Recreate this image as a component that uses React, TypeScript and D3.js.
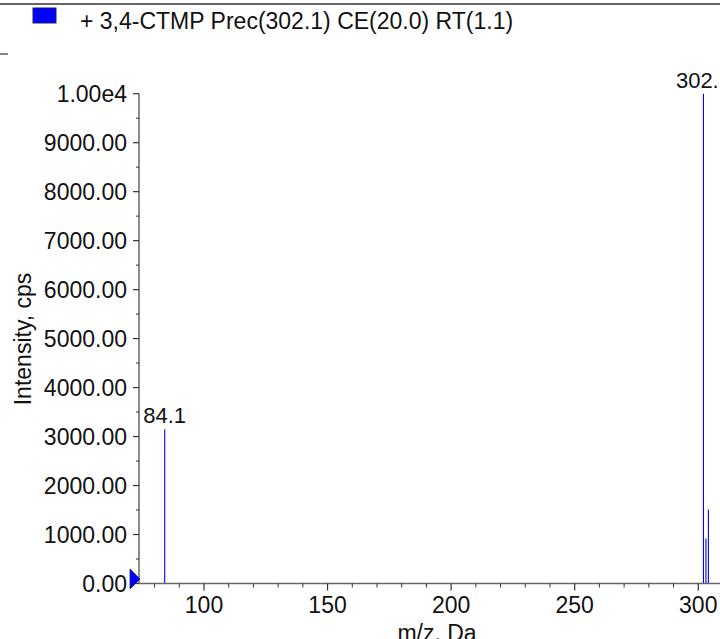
import React from "react";
import * as d3 from "d3";

const peakMz: number[] = [84.1, 302.1, 303.1, 304.1];
const peakIntensity: number[] = [3150, 10000, 920, 1510];
const peakLabels: string[] = ["84.1", "302.1", "", ""];
const xTicks: number[] = [100, 150, 200, 250, 300];
const yTicks: number[] = [0, 1000, 2000, 3000, 4000, 5000, 6000, 7000, 8000, 9000, 10000];
const legendText = "+ 3,4-CTMP Prec(302.1) CE(20.0) RT(1.1)";
const xTitle = "m/z. Da";
const yTitle = "Intensity, cps";

const W = 720;
const H = 639;
const FONT = "'Liberation Sans', Arial, Helvetica, sans-serif";
const FS = 23;

export default function App() {
  const x = d3.scaleLinear().domain([73.7, 308.8]).range([139, 720]);
  const y = d3.scaleLinear().domain([0, 10000]).range([583.5, 93.7]);
  const x0 = x.range()[0];
  const y0 = y(0);
  const xMinor = d3.range(80, 310, 10).filter((v) => !xTicks.includes(v));
  const yMinor = d3.range(500, 10000, 1000);
  const fmtY = (v: number) => (v >= 10000 ? "1.00e4" : v.toFixed(2));

  return (
    <svg
      width={W}
      height={H}
      style={{ position: "fixed", left: 0, top: 0, background: "#fff" }}
      fontFamily={FONT}
    >
      <rect x={0} y={0} width={W} height={H} fill="#fff" />
      {/* top frame line */}
      <line x1={0} x2={W} y1={4} y2={4} stroke="#333" strokeWidth={1.5} />
      <line x1={0} x2={8} y1={54} y2={54} stroke="#333" strokeWidth={1.2} />
      {/* legend */}
      <rect x={33} y={8} width={23} height={15} fill="#0000ff" stroke="#202060" strokeWidth={1} />
      <text x={80} y={29} fontSize={FS} fill="#111">{legendText}</text>

      {/* peaks */}
      {peakMz.map((m, i) => (
        <line
          key={"p" + i}
          x1={x(m)}
          x2={x(m)}
          y1={y0}
          y2={y(peakIntensity[i])}
          stroke="#0000ff"
          strokeWidth={1.1}
        />
      ))}
      {peakMz.map((m, i) =>
        peakLabels[i] ? (
          <text
            key={"l" + i}
            x={x(m)}
            y={y(peakIntensity[i]) - 6}
            fontSize={22}
            textAnchor="middle"
            fill="#111"
          >
            {peakLabels[i]}
          </text>
        ) : null
      )}

      {/* y axis */}
      <line x1={x0} x2={x0} y1={y(10000)} y2={y0} stroke="#666" strokeWidth={1.5} />
      {yTicks.map((v) => (
        <g key={"yt" + v}>
          <line x1={x0 - 6} x2={x0} y1={y(v)} y2={y(v)} stroke="#333" strokeWidth={1.2} />
          <text x={x0 - 12} y={y(v)} dy="0.36em" fontSize={FS} textAnchor="end" fill="#111">
            {fmtY(v)}
          </text>
        </g>
      ))}
      {yMinor.map((v) => (
        <line key={"ym" + v} x1={x0 - 3} x2={x0} y1={y(v)} y2={y(v)} stroke="#333" strokeWidth={1} />
      ))}
      <text
        transform={`translate(31,339) rotate(-90)`}
        fontSize={FS}
        textAnchor="middle"
        fill="#111"
      >
        {yTitle}
      </text>

      {/* x axis */}
      <line x1={x0} x2={W} y1={y0} y2={y0} stroke="#666" strokeWidth={1.5} />
      {xTicks.map((v) => (
        <g key={"xt" + v}>
          <line x1={x(v)} x2={x(v)} y1={y0} y2={y0 + 7} stroke="#333" strokeWidth={1.2} />
          <text x={x(v)} y={613} fontSize={FS} textAnchor="middle" fill="#111">
            {v}
          </text>
        </g>
      ))}
      {xMinor.map((v) => (
        <line key={"xm" + v} x1={x(v)} x2={x(v)} y1={y0} y2={y0 + 4} stroke="#333" strokeWidth={1} />
      ))}
      <text x={437} y={641} fontSize={FS} textAnchor="middle" fill="#111">
        {xTitle}
      </text>

      {/* origin marker */}
      <path
        d={`M130,569 L140,579 L130,589 Z`}
        fill="#0000ff"
        stroke="#202060"
        strokeWidth={0.8}
      />
    </svg>
  );
}
